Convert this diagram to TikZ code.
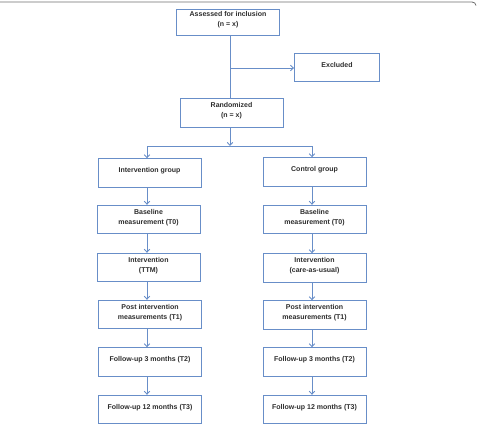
\documentclass[tikz,border=0pt]{standalone}
\usepackage{fontspec}
\setmainfont{Liberation Sans}
\usetikzlibrary{arrows.meta}
\definecolor{boxblue}{RGB}{104,142,200}
\definecolor{txt}{RGB}{45,45,45}
\definecolor{frame}{RGB}{110,110,110}
\tikzset{
  box/.style={draw=boxblue, line width=0.9pt, fill=white, minimum width=#1, minimum height=28.5pt, inner sep=0pt},
  box/.default=103pt,
  lbl/.style={font=\fontsize{7}{10}\selectfont\bfseries, text=txt, align=center, yshift=2pt},
  conn/.style={draw=boxblue, line width=0.9pt},
  arr/.style={conn, -{Straight Barb[length=3pt,width=5.5pt]}},
}
\begin{document}
\begin{tikzpicture}[x=1pt,y=-1pt]
\useasboundingbox (0,0) rectangle (478,428);
\draw[frame, line width=0.8pt] (0,2) -- (472,2) to[out=0,in=90] (476,5.5);

\node[box, minimum height=26pt, label={[lbl]center:Assessed for inclusion\\(n = x)}] (assessed) at (228,22) {};
\node[box=85pt, minimum height=28pt, label={[lbl]center:Excluded}] (excl) at (337,67) {};
\node[box, minimum height=29pt, label={[lbl]center:Randomized\\(n = x)}] (rand) at (231.5,112.5) {};

\node[box, label={[lbl]center:Intervention group}] (ig) at (149.5,173) {};
\node[box, label={[lbl]center:Baseline\\measurement (T0)}] (bl) at (148.5,219.5) {};
\node[box, label={[lbl]center:Intervention\\(TTM)}] (il) at (148.5,267.5) {};
\node[box, label={[lbl]center:Post intervention\\measurements (T1)}] (pl) at (150,314.5) {};
\node[box, label={[lbl]center:Follow-up 3 months (T2)}] (f3l) at (150,362) {};
\node[box, label={[lbl]center:Follow-up 12 months (T3)}] (f12l) at (150,409.5) {};

\node[box, label={[lbl]center:Control group}] (cg) at (314.5,172) {};
\node[box, label={[lbl]center:Baseline\\measurement (T0)}] (br) at (314.5,219.5) {};
\node[box, label={[lbl]center:Intervention\\(care-as-usual)}] (ir) at (314.5,268) {};
\node[box, label={[lbl]center:Post intervention\\measurements (T1)}] (pr) at (314.5,315) {};
\node[box, label={[lbl]center:Follow-up 3 months (T2)}] (f3r) at (314.5,362) {};
\node[box, label={[lbl]center:Follow-up 12 months (T3)}] (f12r) at (314.5,409.5) {};

\coordinate (jx) at (230,68);
\coordinate (split) at (230,146);
\coordinate (lx) at (147,146);
\coordinate (rx) at (312,146);

\draw[conn] (assessed.south -| jx) -- (rand.north -| jx);
\draw[arr] (jx) -- (excl.west |- jx);
\draw[arr] (rand.south -| jx) -- (split);
\draw[conn] (lx) -- (rx);
\draw[arr] (lx) -- (ig.north -| lx);
\draw[arr] (rx) -- (cg.north -| rx);

\draw[arr] (ig.south -| lx) -- (bl.north -| lx);
\draw[arr] (bl.south -| lx) -- (il.north -| lx);
\draw[arr] (il.south -| lx) -- (pl.north -| lx);
\draw[arr] (pl.south -| lx) -- (f3l.north -| lx);
\draw[arr] (f3l.south -| lx) -- (f12l.north -| lx);

\draw[arr] (cg.south -| rx) -- (br.north -| rx);
\draw[arr] (br.south -| rx) -- (ir.north -| rx);
\draw[arr] (ir.south -| rx) -- (pr.north -| rx);
\draw[arr] (pr.south -| rx) -- (f3r.north -| rx);
\draw[arr] (f3r.south -| rx) -- (f12r.north -| rx);
\end{tikzpicture}
\end{document}
